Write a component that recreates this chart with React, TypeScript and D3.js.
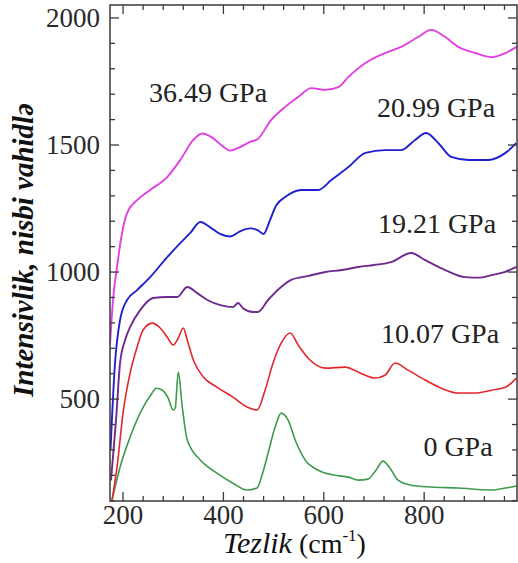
import React, { useEffect } from "react";
import * as d3 from "d3";

// ---- data ----
const xGreen = [178, 194, 214, 234, 258, 266, 278, 290, 300, 304, 310, 318, 328, 354, 387, 419, 447, 467, 477, 489, 503, 515, 529, 543, 563, 589, 623, 649, 669, 688, 704, 718, 732, 748, 774, 814, 868, 934, 962, 984];
const yGreen = [102, 232, 350, 445, 524, 543, 536, 504, 457, 465, 606, 469, 339, 260, 209, 169, 142, 150, 201, 287, 390, 445, 417, 339, 260, 220, 200, 193, 181, 185, 220, 256, 228, 181, 161, 154, 150, 142, 150, 158];

const xRed = [178, 188, 200, 214, 228, 240, 258, 274, 288, 300, 310, 320, 328, 340, 360, 387, 419, 447, 467, 483, 499, 515, 533, 549, 569, 603, 643, 669, 702, 722, 742, 768, 802, 834, 868, 902, 934, 962, 984];
const yRed = [102, 232, 445, 602, 705, 772, 799, 780, 744, 713, 740, 780, 732, 654, 587, 547, 508, 469, 457, 535, 642, 720, 760, 713, 661, 622, 626, 606, 583, 594, 642, 614, 575, 543, 524, 524, 535, 547, 583];

const xPurple = [176, 186, 194, 204, 214, 234, 260, 288, 308, 328, 348, 368, 394, 419, 429, 439, 459, 469, 489, 515, 535, 570, 603, 636, 669, 700, 734, 774, 802, 842, 882, 910, 934, 960, 984];
const yPurple = [180, 417, 642, 732, 783, 850, 898, 902, 902, 941, 917, 890, 870, 862, 878, 858, 843, 843, 890, 941, 969, 985, 1000, 1008, 1020, 1028, 1039, 1075, 1047, 1008, 980, 978, 988, 1000, 1020];

const xBlue = [175, 184, 194, 208, 228, 254, 288, 314, 334, 354, 373, 393, 413, 433, 453, 468, 480, 492, 505, 523, 555, 589, 615, 649, 683, 722, 754, 782, 804, 828, 854, 888, 928, 962, 984];
const yBlue = [300, 642, 811, 890, 929, 980, 1059, 1114, 1154, 1197, 1177, 1150, 1140, 1160, 1172, 1165, 1150, 1200, 1262, 1295, 1323, 1323, 1362, 1413, 1469, 1480, 1480, 1520, 1547, 1508, 1453, 1441, 1441, 1469, 1508];

const xMagenta = [174, 180, 188, 198, 208, 228, 254, 288, 314, 340, 358, 377, 397, 413, 433, 453, 469, 495, 523, 549, 575, 603, 629, 649, 683, 722, 754, 788, 814, 842, 868, 902, 934, 962, 984];
const yMagenta = [713, 890, 1020, 1154, 1232, 1283, 1323, 1374, 1441, 1520, 1545, 1530, 1498, 1478, 1492, 1512, 1525, 1598, 1650, 1689, 1724, 1717, 1728, 1768, 1823, 1862, 1886, 1925, 1953, 1925, 1886, 1862, 1846, 1862, 1886];

const seriesNames = ["0 GPa", "10.07 GPa", "19.21 GPa", "20.99 GPa", "36.49 GPa"];
const seriesColors = ["#3f9a4c", "#e4262b", "#6e2a8e", "#2020d0", "#e23fe2"];
const seriesX = [xGreen, xRed, xPurple, xBlue, xMagenta];
const seriesY = [yGreen, yRed, yPurple, yBlue, yMagenta];

const xMajorTicks = [200, 400, 600, 800];
const yMajorTicks = [500, 1000, 1500, 2000];
const xDomain = [174, 985];
const yDomain = [99, 2051];

export default function App() {
  useEffect(() => {
    document.body.style.margin = "0";
  }, []);

  const W = 518, H = 563;
  const left = 110, right = 517, top = 5, bottom = 501;
  const x = d3.scaleLinear().domain(xDomain).range([left, right]);
  const y = d3.scaleLinear().domain(yDomain).range([bottom, top]);

  const line = d3
    .line<[number, number]>()
    .x((d) => x(d[0]))
    .y((d) => y(d[1]))
    .curve(d3.curveMonotoneX);

  const xTicks = d3.range(200, 985, 40);
  const yTicks = d3.range(100, 2051, 100);
  const axisColor = "#3a3a3a";
  const font = "'Liberation Serif', 'Times New Roman', serif";

  // series label placement (pixel centres / baselines)
  const labelPos: [number, number][] = [
    [458, 456],
    [440, 343],
    [437, 233],
    [436, 117],
    [208, 102],
  ];

  return (
    <svg width={W} height={H} style={{ position: "absolute", left: 0, top: 0, background: "#fff" }}>
      <rect x={0} y={0} width={W} height={H} fill="#fff" />
      <defs>
        <clipPath id="plot">
          <rect x={left} y={top} width={right - left} height={bottom - top} />
        </clipPath>
      </defs>

      {/* curves */}
      <g clipPath="url(#plot)">
        {seriesX.map((xs, i) => (
          <path
            key={i}
            d={line(xs.map((v, j) => [v, seriesY[i][j]]) as [number, number][]) || ""}
            fill="none"
            stroke={seriesColors[i]}
            strokeWidth={i >= 2 ? 1.9 : 1.6}
            strokeLinejoin="round"
          />
        ))}
      </g>

      {/* frame */}
      <rect x={left} y={top} width={right - left} height={bottom - top} fill="none" stroke={axisColor} strokeWidth={1.5} />

      {/* x ticks bottom & top */}
      {xTicks.map((t) => {
        const major = xMajorTicks.includes(t);
        const len = major ? 9 : 5;
        return (
          <g key={"xt" + t}>
            <line x1={x(t)} x2={x(t)} y1={bottom} y2={bottom - len} stroke={axisColor} strokeWidth={1.3} />
            <line x1={x(t)} x2={x(t)} y1={top} y2={top + len} stroke={axisColor} strokeWidth={1.3} />
          </g>
        );
      })}
      {/* y ticks left & right */}
      {yTicks.map((t) => {
        const major = yMajorTicks.includes(t);
        const len = major ? 9 : 5;
        return (
          <g key={"yt" + t}>
            <line x1={left} x2={left + len} y1={y(t)} y2={y(t)} stroke={axisColor} strokeWidth={1.3} />
            <line x1={right} x2={right - len} y1={y(t)} y2={y(t)} stroke={axisColor} strokeWidth={1.3} />
          </g>
        );
      })}

      {/* tick labels */}
      {xMajorTicks.map((t) => (
        <text key={"xl" + t} x={x(t)} y={524} textAnchor="middle" fontFamily={font} fontSize={27} fill="#2a2a2a">
          {t}
        </text>
      ))}
      {yMajorTicks.map((t) => (
        <text key={"yl" + t} x={100} y={y(t) + 9} textAnchor="end" fontFamily={font} fontSize={27} fill="#2a2a2a">
          {t}
        </text>
      ))}

      {/* series labels */}
      {seriesNames.map((n, i) => (
        <text
          key={"sl" + i}
          x={labelPos[i][0]}
          y={labelPos[i][1]}
          textAnchor="middle"
          fontFamily={font}
          fontSize={28}
          fill="#222"
        >
          {n}
        </text>
      ))}

      {/* axis titles */}
      <text
        transform="translate(33,250) rotate(-90)"
        textAnchor="middle"
        fontFamily={font}
        fontSize={29}
        fontStyle="italic"
        fontWeight="bold"
        fill="#111"
      >
        Intensivlik, nisbi vahidlə
      </text>
      <text x={223} y={553} fontFamily={font} fill="#111">
        <tspan fontStyle="italic" fontSize={30}>Tezlik</tspan>
        <tspan fontSize={28}> (cm</tspan>
        <tspan fontSize={17} dy={-12}>-1</tspan>
        <tspan fontSize={28} dy={12}>)</tspan>
      </text>
    </svg>
  );
}
